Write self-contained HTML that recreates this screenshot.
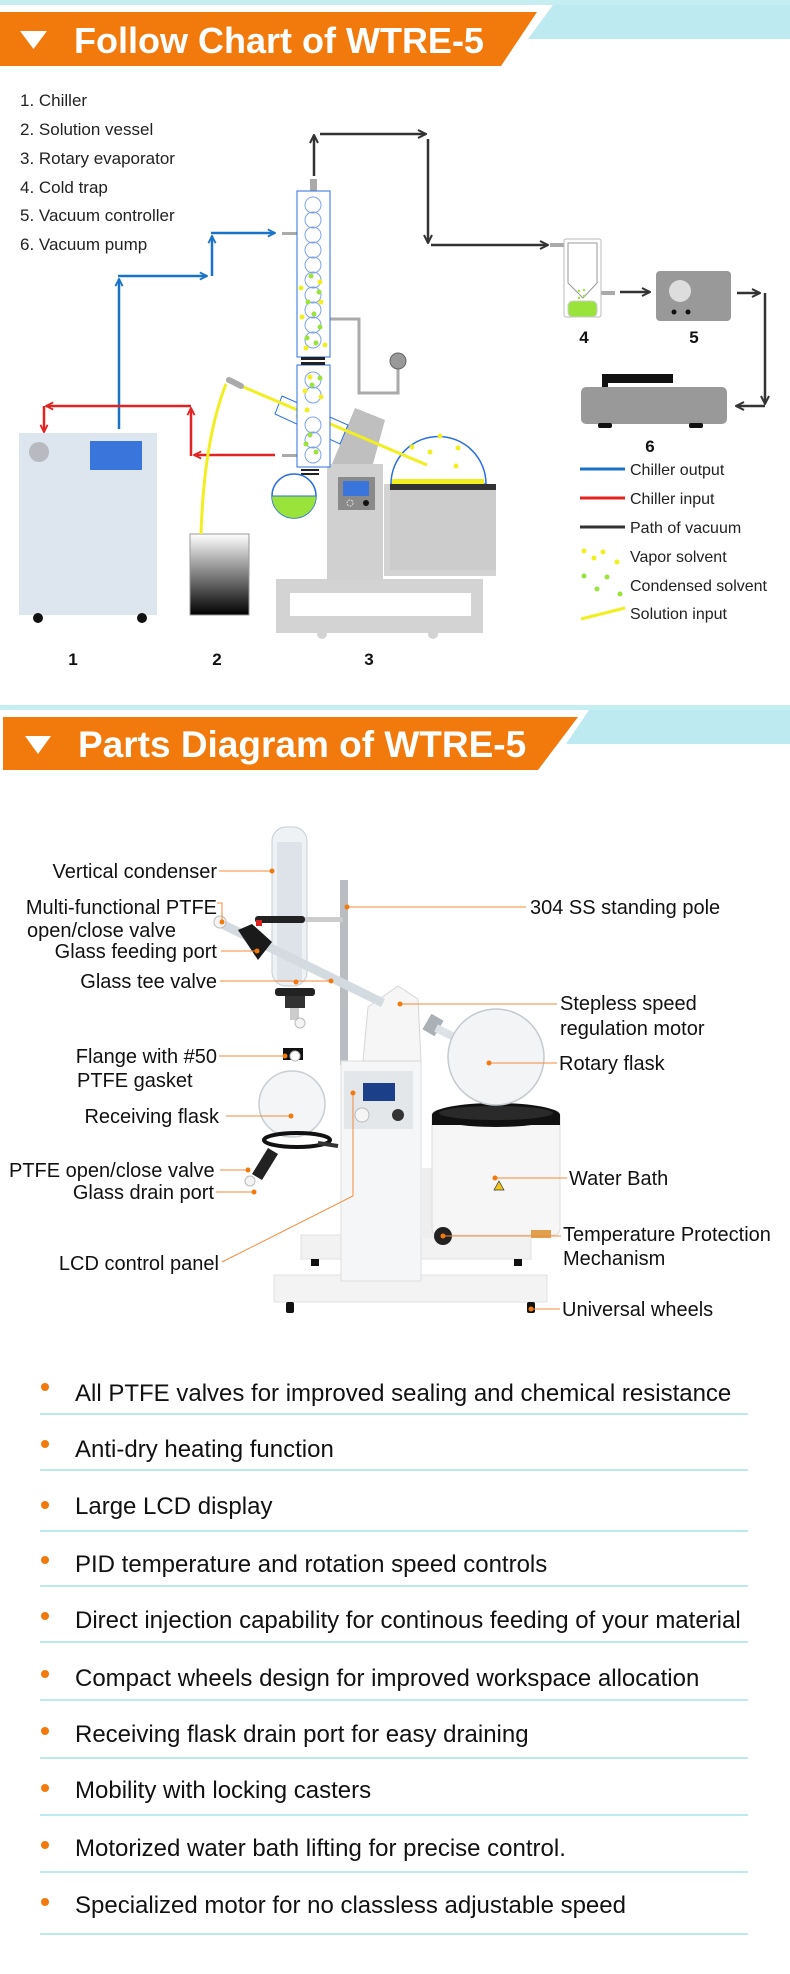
<!DOCTYPE html>
<html><head><meta charset="utf-8"><style>
html,body{margin:0;padding:0;background:#fff;}
svg{display:block;font-family:"Liberation Sans",Arial,sans-serif;}
</style></head><body>
<svg width="790" height="1974" viewBox="0 0 790 1974" xmlns="http://www.w3.org/2000/svg">
<defs>
<marker id="ab" viewBox="0 0 10 10" refX="9" refY="5" markerWidth="9" markerHeight="9" orient="auto" markerUnits="userSpaceOnUse"><path d="M1,1 L9,5 L1,9" fill="none" stroke="#1872c8" stroke-width="2"/></marker>
<marker id="ar" viewBox="0 0 10 10" refX="9" refY="5" markerWidth="9" markerHeight="9" orient="auto" markerUnits="userSpaceOnUse"><path d="M1,1 L9,5 L1,9" fill="none" stroke="#e32222" stroke-width="2"/></marker>
<marker id="ak" viewBox="0 0 10 10" refX="9" refY="5" markerWidth="10" markerHeight="10" orient="auto" markerUnits="userSpaceOnUse"><path d="M1,1 L9,5 L1,9" fill="none" stroke="#333" stroke-width="2"/></marker>
<linearGradient id="vg" x1="0" y1="0" x2="0" y2="1"><stop offset="0" stop-color="#fff"/><stop offset="1" stop-color="#000"/></linearGradient>
</defs>

<!-- Header 1 -->
<rect x="0" y="0" width="790" height="5" fill="#c4eef2"/>
<polygon points="553,5 790,5 790,39 528,39" fill="#bde9f0"/>
<polygon points="0,12 537,12 501,66 0,66" fill="#f27a0c"/>
<polygon points="20,31 47,31 33.5,49" fill="#fff"/>
<text x="74" y="53" font-size="36" font-weight="bold" fill="#fff">Follow  Chart of WTRE-5</text>

<!-- legend list -->
<g font-size="17" fill="#222">
<text x="20" y="106">1. Chiller</text>
<text x="20" y="135">2. Solution vessel</text>
<text x="20" y="164">3. Rotary evaporator</text>
<text x="20" y="193">4. Cold trap</text>
<text x="20" y="221">5. Vacuum controller</text>
<text x="20" y="250">6. Vacuum pump</text>
</g>

<!-- Chiller -->
<rect x="19" y="433" width="138" height="182" fill="#dde6ee"/>
<circle cx="39" cy="452" r="10" fill="#b9b9c2"/>
<rect x="90" y="441" width="52" height="29" fill="#3a75dc"/>
<circle cx="38" cy="618" r="5" fill="#111"/>
<circle cx="142" cy="618" r="5" fill="#111"/>
<!-- Solution vessel -->
<rect x="190" y="534" width="59" height="81" fill="url(#vg)" stroke="#999"/>

<!-- blue lines -->
<g fill="none" stroke="#1872c8" stroke-width="2.5">
<line x1="119" y1="429" x2="119" y2="279" marker-end="url(#ab)"/>
<line x1="118" y1="276" x2="207" y2="276" marker-end="url(#ab)"/>
<line x1="212" y1="276" x2="212" y2="236" marker-end="url(#ab)"/>
<line x1="211" y1="233" x2="275" y2="233" marker-end="url(#ab)"/>
</g>
<!-- red lines -->
<g fill="none" stroke="#e32222" stroke-width="2.5">
<line x1="275" y1="455" x2="194" y2="455" marker-end="url(#ar)"/>
<line x1="191" y1="456" x2="191" y2="408" marker-end="url(#ar)"/>
<line x1="191" y1="406" x2="46" y2="406" marker-end="url(#ar)"/>
<line x1="44" y1="406" x2="44" y2="432" marker-end="url(#ar)"/>
</g>
<!-- black lines -->
<g fill="none" stroke="#333" stroke-width="2.5">
<line x1="314" y1="176" x2="314" y2="135" marker-end="url(#ak)"/>
<line x1="320" y1="134" x2="426" y2="134" marker-end="url(#ak)"/>
<line x1="428" y1="139" x2="428" y2="243" marker-end="url(#ak)"/>
<line x1="431" y1="245" x2="548" y2="245" marker-end="url(#ak)"/>
<line x1="620" y1="292" x2="650" y2="292" marker-end="url(#ak)"/>
<line x1="737" y1="293" x2="760" y2="293" marker-end="url(#ak)"/>
<line x1="765" y1="293" x2="765" y2="404" marker-end="url(#ak)"/>
<line x1="765" y1="406" x2="736" y2="406" marker-end="url(#ak)"/>
</g>

<!-- Rotary evaporator -->
<rect x="276" y="579" width="207" height="54" fill="#d3d3d3"/>
<rect x="290" y="593" width="181" height="23" fill="#fff"/>
<circle cx="322" cy="634" r="5" fill="#d3d3d3"/>
<circle cx="433" cy="634" r="5" fill="#d3d3d3"/>
<rect x="327" y="464" width="56" height="116" fill="#d0d0d0"/>
<polygon points="332,464 355,408 385,420 373,464" fill="#bfbfbf"/>
<rect x="338" y="477" width="37" height="33" fill="#8a8a8a"/>
<rect x="343" y="481" width="26" height="15" fill="#3a75dc"/>
<circle cx="366" cy="503" r="3" fill="#111"/>
<circle cx="350" cy="503" r="3" fill="none" stroke="#ddd" stroke-dasharray="2,1"/>
<!-- bath -->
<rect x="384" y="484" width="112" height="92" fill="#d3d3d3"/>
<rect x="390" y="484" width="106" height="86" fill="#ccc"/>
<!-- rotary flask -->
<path d="M391,484 A46,46 0 1 1 486,484 Z" fill="#fff" stroke="#2a6fe0" stroke-width="1.5"/>
<rect x="392" y="479" width="92" height="5" fill="#f2ef20"/>
<rect x="390" y="484" width="106" height="6" fill="#333"/>
<g fill="#f2ef20"><circle cx="412" cy="447" r="2.5"/><circle cx="440" cy="436" r="2.5"/><circle cx="430" cy="452" r="2.5"/><circle cx="458" cy="448" r="2.5"/><circle cx="456" cy="466" r="2.5"/></g>
<!-- tilted tube -->
<polygon points="282,396 348,425 340,444 275,414" fill="#fff" stroke="#2a6fe0" stroke-width="1"/>
<line x1="234" y1="383" x2="427" y2="465" stroke="#f2ef20" stroke-width="3"/>
<line x1="229" y1="380" x2="241" y2="386" stroke="#aaa" stroke-width="6" stroke-linecap="round"/>
<g fill="#f2ef20"><circle cx="298" cy="416" r="2.5"/><circle cx="313" cy="409" r="2.5"/><circle cx="327" cy="417" r="2.5"/><circle cx="314" cy="424" r="2.5"/></g>
<!-- solution input -->
<path d="M226,384 Q204,440 201,534" fill="none" stroke="#f2ef20" stroke-width="3"/>
<!-- gray pipe -->
<path d="M330,319 H359 V393 H398 V369" fill="none" stroke="#aaa" stroke-width="3"/>
<circle cx="398" cy="361" r="8" fill="#999" stroke="#666"/>
<!-- condenser -->
<rect x="310" y="179" width="7" height="13" fill="#aaa"/>
<rect x="282" y="232" width="15" height="3" fill="#aaa"/>
<rect x="282" y="454" width="15" height="3" fill="#aaa"/>
<rect x="297" y="191" width="33" height="166" fill="#fff" stroke="#2a6fe0" stroke-width="1"/>
<rect x="297" y="365" width="33" height="102" fill="#fff" stroke="#2a6fe0" stroke-width="1"/>
<g fill="none" stroke="#7ea4e6" stroke-width="1">
<circle cx="313" cy="205" r="8"/><circle cx="313" cy="220" r="8"/><circle cx="313" cy="235" r="8"/><circle cx="313" cy="250" r="8"/><circle cx="313" cy="265" r="8"/><circle cx="313" cy="280" r="8"/><circle cx="313" cy="295" r="8"/><circle cx="313" cy="310" r="8"/><circle cx="313" cy="325" r="8"/><circle cx="313" cy="340" r="8"/>
<circle cx="313" cy="380" r="8"/><circle cx="313" cy="395" r="8"/><circle cx="313" cy="425" r="8"/><circle cx="313" cy="440" r="8"/><circle cx="313" cy="455" r="8"/>
</g>
<g fill="#9ae33a"><circle cx="311" cy="276" r="2.5"/><circle cx="319" cy="292" r="2.5"/><circle cx="308" cy="302" r="2.5"/><circle cx="314" cy="314" r="2.5"/><circle cx="320" cy="327" r="2.5"/><circle cx="307" cy="338" r="2.5"/><circle cx="316" cy="343" r="2.5"/><circle cx="320" cy="378" r="2.5"/><circle cx="312" cy="385" r="2.5"/><circle cx="310" cy="435" r="2.5"/><circle cx="306" cy="444" r="2.5"/><circle cx="316" cy="452" r="2.5"/></g>
<g fill="#f2ef20"><circle cx="320" cy="282" r="2.5"/><circle cx="301" cy="288" r="2.5"/><circle cx="321" cy="302" r="2.5"/><circle cx="302" cy="317" r="2.5"/><circle cx="306" cy="348" r="2.5"/><circle cx="325" cy="345" r="2.5"/><circle cx="310" cy="377" r="2.5"/><circle cx="305" cy="391" r="2.5"/><circle cx="321" cy="397" r="2.5"/><circle cx="307" cy="410" r="2.5"/></g>
<rect x="301" y="357" width="24" height="3" fill="#222"/><rect x="301" y="362" width="24" height="3" fill="#222"/>
<rect x="301" y="469" width="18" height="2" fill="#222"/><rect x="301" y="473" width="18" height="2" fill="#222"/>
<!-- receiving flask -->
<circle cx="294" cy="496" r="22" fill="#fff" stroke="#2a6fe0" stroke-width="1.5"/>
<path d="M272,496 A22,22 0 0 0 316,496 Z" fill="#9ae33a"/>
<line x1="272" y1="496" x2="316" y2="496" stroke="#2a6fe0"/>

<!-- cold trap -->
<rect x="550" y="243" width="14" height="4" fill="#aaa"/>
<rect x="601" y="291" width="14" height="4" fill="#aaa"/>
<rect x="564" y="239" width="37" height="78" rx="2" fill="#fff" stroke="#bbb"/>
<polygon points="568,243 597,243 597,283 583,298 568,283" fill="#fff" stroke="#999"/>
<rect x="568" y="301" width="29" height="16" rx="5" fill="#9ae33a" stroke="#ccc"/>
<g fill="#9ae33a"><circle cx="579" cy="291" r="1.2"/><circle cx="584" cy="290" r="1.2"/><circle cx="584" cy="296" r="1.2"/><circle cx="579" cy="298" r="1.2"/></g>
<!-- controller -->
<rect x="656" y="271" width="75" height="50" rx="4" fill="#999"/>
<circle cx="680" cy="291" r="11" fill="#ddd"/>
<circle cx="674" cy="312" r="2.5" fill="#111"/><circle cx="688" cy="312" r="2.5" fill="#111"/>
<!-- pump -->
<rect x="602" y="374" width="71" height="9" fill="#111"/>
<rect x="602" y="374" width="6" height="15" fill="#111"/>
<rect x="581" y="387" width="146" height="37" rx="5" fill="#999"/>
<rect x="598" y="423" width="14" height="5" rx="2" fill="#111"/>
<rect x="689" y="423" width="14" height="5" rx="2" fill="#111"/>

<g font-size="17" fill="#111" font-weight="bold">
<text x="584" y="343" text-anchor="middle">4</text>
<text x="694" y="343" text-anchor="middle">5</text>
<text x="650" y="452" text-anchor="middle">6</text>
<text x="73" y="665" text-anchor="middle">1</text>
<text x="217" y="665" text-anchor="middle">2</text>
<text x="369" y="665" text-anchor="middle">3</text>
</g>

<!-- legend -->
<line x1="580" y1="469" x2="625" y2="469" stroke="#1872c8" stroke-width="3"/>
<line x1="580" y1="498" x2="625" y2="498" stroke="#e32222" stroke-width="3"/>
<line x1="580" y1="527" x2="625" y2="527" stroke="#333" stroke-width="3"/>
<g fill="#f2ef20"><circle cx="584" cy="551" r="2.5"/><circle cx="603" cy="552" r="2.5"/><circle cx="594" cy="558" r="2.5"/><circle cx="617" cy="562" r="2.5"/></g>
<g fill="#9ae33a"><circle cx="584" cy="576" r="2.5"/><circle cx="607" cy="577" r="2.5"/><circle cx="597" cy="589" r="2.5"/><circle cx="620" cy="594" r="2.5"/></g>
<line x1="581" y1="619" x2="625" y2="608" stroke="#f2ef20" stroke-width="3"/>
<g font-size="16" fill="#222">
<text x="630" y="475">Chiller output</text>
<text x="630" y="504">Chiller input</text>
<text x="630" y="533">Path of vacuum</text>
<text x="630" y="562">Vapor solvent</text>
<text x="630" y="591">Condensed solvent</text>
<text x="630" y="619">Solution input</text>
</g>

<!-- Header 2 -->
<rect x="0" y="705" width="790" height="5" fill="#c4eef2"/>
<polygon points="589,710 790,710 790,744 566,744" fill="#bde9f0"/>
<polygon points="3,717 578,717 538,770 3,770" fill="#f27a0c"/>
<polygon points="25,736 51,736 38,754" fill="#fff"/>
<text x="78" y="757" font-size="37" font-weight="bold" fill="#fff">Parts Diagram of WTRE-5</text>

<!-- Parts drawing -->
<rect x="301" y="1235" width="230" height="24" fill="#f2f2f2" stroke="#e2e2e2"/>
<rect x="274" y="1275" width="273" height="27" fill="#f3f3f3" stroke="#e2e2e2"/>
<rect x="286" y="1302" width="8" height="11" rx="2" fill="#111"/>
<rect x="527" y="1302" width="8" height="11" rx="2" fill="#111"/>
<rect x="311" y="1259" width="8" height="7" fill="#111"/>
<rect x="514" y="1259" width="8" height="7" fill="#111"/>
<rect x="340" y="880" width="8" height="185" fill="#b9bdc2"/>
<rect x="341" y="1061" width="80" height="220" fill="#f5f6f7" stroke="#dedede"/>
<rect x="344" y="1071" width="69" height="58" fill="#e4e7ea"/>
<rect x="363" y="1083" width="32" height="18" fill="#1c3f8a"/>
<circle cx="398" cy="1115" r="6" fill="#333"/>
<circle cx="362" cy="1115" r="7" fill="#f5f5f5" stroke="#bbb"/>
<!-- water bath -->
<rect x="421" y="1168" width="20" height="70" fill="#eee"/>
<rect x="432" y="1110" width="128" height="125" rx="6" fill="#f6f6f6" stroke="#dcdcdc"/>
<ellipse cx="496" cy="1115" rx="64" ry="12" fill="#111"/>
<rect x="432" y="1115" width="128" height="10" fill="#111"/>
<ellipse cx="496" cy="1113" rx="57" ry="7" fill="#2a2a2a"/>
<polygon points="499,1181 504,1190 494,1190" fill="#f0c419" stroke="#333" stroke-width="0.7"/>
<circle cx="443" cy="1236" r="9" fill="#222"/>
<rect x="531" y="1230" width="20" height="8" fill="#e0a050"/>
<!-- motor arm + flask -->
<polygon points="368,1007 398,986 418,999 421,1061 363,1061" fill="#f6f6f6" stroke="#d6d6d6"/>
<rect x="426" y="1016" width="14" height="18" fill="#aab0b6" transform="rotate(30 433 1025)"/>
<line x1="436" y1="1028" x2="470" y2="1045" stroke="#dde2e6" stroke-width="8"/>
<circle cx="496" cy="1057" r="48" fill="#f2f4f6" stroke="#c4cad0" stroke-width="1.5"/>
<!-- condenser -->
<rect x="272" y="827" width="35" height="159" rx="14" fill="#eef2f5" stroke="#c6ced6"/>
<rect x="277" y="842" width="25" height="140" fill="#dde3e9"/>
<line x1="222" y1="924" x2="383" y2="1003" stroke="#d3dae0" stroke-width="9"/>
<path d="M238,930 l14,-6 l20,18 l-14,18 z" fill="#1a1a1a"/>
<rect x="255" y="916" width="50" height="7" rx="3" fill="#222"/>
<rect x="305" y="917" width="38" height="5" fill="#ccc"/>
<circle cx="220" cy="922" r="6" fill="#f4f4f4" stroke="#bbb"/>
<rect x="256" y="920" width="6" height="6" fill="#d22"/>
<rect x="275" y="988" width="40" height="8" rx="3" fill="#222"/>
<rect x="285" y="996" width="20" height="12" fill="#333"/>
<rect x="290" y="1008" width="9" height="12" fill="#ccc"/>
<circle cx="300" cy="1023" r="5" fill="#f4f4f4" stroke="#bbb"/>
<rect x="283" y="1048" width="20" height="12" fill="#111"/>
<circle cx="295" cy="1056" r="5" fill="#fff" stroke="#bbb"/>
<circle cx="292" cy="1104" r="33" fill="#f3f5f7" stroke="#c8ced4" stroke-width="1.5"/>
<ellipse cx="297" cy="1140" rx="33" ry="7" fill="none" stroke="#111" stroke-width="4"/>
<line x1="318" y1="1143" x2="338" y2="1146" stroke="#333" stroke-width="4"/>
<path d="M268,1148 l10,6 l-16,26 l-10,-6 z" fill="#222"/>
<circle cx="250" cy="1181" r="5" fill="#f4f4f4" stroke="#bbb"/>

<!-- leaders -->
<g stroke="#f48a3a" stroke-width="1" fill="none">
<line x1="219" y1="871" x2="272" y2="871"/>
<polyline points="217,903 222,903 222,922"/>
<line x1="221" y1="951" x2="257" y2="951"/>
<line x1="220" y1="981" x2="331" y2="981"/>
<line x1="219" y1="1056" x2="285" y2="1056"/>
<line x1="226" y1="1116" x2="291" y2="1116"/>
<line x1="220" y1="1170" x2="248" y2="1170"/>
<line x1="216" y1="1192" x2="254" y2="1192"/>
<polyline points="222,1262 353,1196 353,1093"/>
<line x1="347" y1="907" x2="526" y2="907"/>
<line x1="400" y1="1004" x2="557" y2="1004"/>
<line x1="489" y1="1063" x2="557" y2="1063"/>
<line x1="495" y1="1178" x2="567" y2="1178"/>
<line x1="443" y1="1236" x2="561" y2="1236"/>
<line x1="531" y1="1309" x2="560" y2="1309"/>
</g>
<g fill="#f27a0c">
<circle cx="272" cy="871" r="2.5"/><circle cx="222" cy="922" r="2.5"/><circle cx="257" cy="951" r="2.5"/><circle cx="331" cy="981" r="2.5"/><circle cx="296" cy="982" r="2.5"/><circle cx="285" cy="1056" r="2.5"/><circle cx="291" cy="1116" r="2.5"/><circle cx="248" cy="1170" r="2.5"/><circle cx="254" cy="1192" r="2.5"/><circle cx="353" cy="1093" r="2.5"/><circle cx="347" cy="907" r="2.5"/><circle cx="400" cy="1004" r="2.5"/><circle cx="489" cy="1063" r="2.5"/><circle cx="495" cy="1178" r="2.5"/><circle cx="443" cy="1236" r="2.5"/><circle cx="531" cy="1309" r="2.5"/>
</g>
<g font-size="20" fill="#111">
<text x="217" y="878" text-anchor="end">Vertical condenser</text>
<text x="217" y="914" text-anchor="end">Multi-functional PTFE</text>
<text x="27" y="937">open/close valve</text>
<text x="217" y="958" text-anchor="end">Glass feeding port</text>
<text x="217" y="988" text-anchor="end">Glass tee valve</text>
<text x="217" y="1063" text-anchor="end">Flange with #50</text>
<text x="77" y="1087">PTFE gasket</text>
<text x="219" y="1123" text-anchor="end">Receiving flask</text>
<text x="9" y="1177">PTFE open/close valve</text>
<text x="214" y="1199" text-anchor="end">Glass drain port</text>
<text x="219" y="1270" text-anchor="end">LCD control panel</text>
<text x="530" y="914">304 SS standing pole</text>
<text x="560" y="1010">Stepless speed</text>
<text x="560" y="1035">regulation motor</text>
<text x="559" y="1070">Rotary flask</text>
<text x="569" y="1185">Water Bath</text>
<text x="563" y="1241">Temperature Protection</text>
<text x="563" y="1265">Mechanism</text>
<text x="562" y="1316">Universal wheels</text>
</g>

<!-- bullet list -->
<g stroke="#bde9f0" stroke-width="2">
<line x1="40" y1="1414" x2="748" y2="1414"/>
<line x1="40" y1="1470" x2="748" y2="1470"/>
<line x1="40" y1="1531" x2="748" y2="1531"/>
<line x1="40" y1="1586" x2="748" y2="1586"/>
<line x1="40" y1="1642" x2="748" y2="1642"/>
<line x1="40" y1="1700" x2="748" y2="1700"/>
<line x1="40" y1="1758" x2="748" y2="1758"/>
<line x1="40" y1="1815" x2="748" y2="1815"/>
<line x1="40" y1="1872" x2="748" y2="1872"/>
<line x1="40" y1="1934" x2="748" y2="1934"/>
</g>
<g fill="#f27a0c">
<circle cx="45" cy="1387" r="4"/><circle cx="45" cy="1444" r="4"/><circle cx="45" cy="1505" r="4"/><circle cx="45" cy="1560" r="4"/><circle cx="45" cy="1616" r="4"/><circle cx="45" cy="1674" r="4"/><circle cx="45" cy="1731" r="4"/><circle cx="45" cy="1788" r="4"/><circle cx="45" cy="1845" r="4"/><circle cx="45" cy="1902" r="4"/>
</g>
<g font-size="24" fill="#111">
<text x="75" y="1401">All PTFE valves for improved sealing and chemical resistance</text>
<text x="75" y="1457">Anti-dry heating function</text>
<text x="75" y="1514">Large LCD display</text>
<text x="75" y="1572">PID temperature and rotation speed controls</text>
<text x="75" y="1628">Direct injection capability for continous feeding of your material</text>
<text x="75" y="1686">Compact wheels design for improved workspace allocation</text>
<text x="75" y="1742">Receiving flask drain port for easy draining</text>
<text x="75" y="1798">Mobility with locking casters</text>
<text x="75" y="1856">Motorized water bath lifting for precise control.</text>
<text x="75" y="1913">Specialized motor for no classless adjustable speed</text>
</g>
</svg>
</body></html>
